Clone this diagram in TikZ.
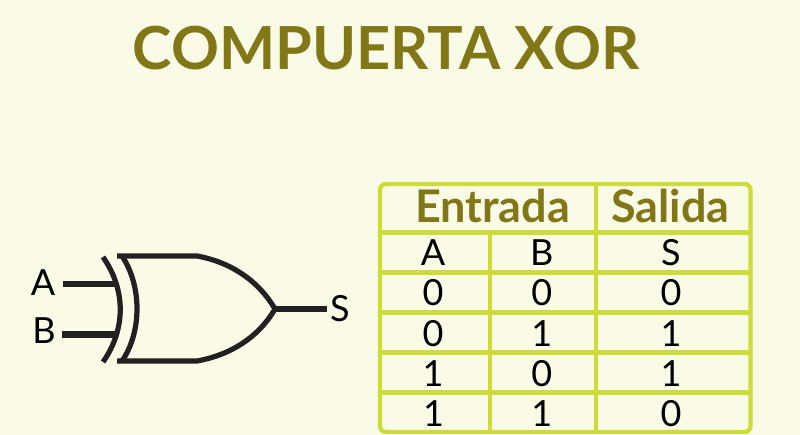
\documentclass[tikz,border=0pt]{standalone}
\usepackage{fontspec}
\setmainfont{Lato}
\definecolor{bgc}{HTML}{F9FBE7}
\definecolor{titlec}{HTML}{827717}
\definecolor{gridc}{HTML}{CDDC39}
\definecolor{inkc}{HTML}{212121}
\tikzset{
  titletext/.style={anchor=base,inner sep=0pt,text=titlec,font=\fontsize{59.4}{60}\selectfont\bfseries},
  headtext/.style={anchor=base,inner sep=0pt,text=titlec,font=\fontsize{45}{45}\selectfont\bfseries},
  celltext/.style={anchor=base,inner sep=0pt,text=black,font=\fontsize{36}{36}\selectfont},
  pintext/.style={anchor=base,inner sep=0pt,text=black,font=\fontsize{36}{36}\selectfont},
  gridline/.style={draw=gridc,line width=4.4pt},
  gateline/.style={draw=inkc,line width=5.2pt},
  wireline/.style={draw=inkc,line width=6.2pt}
}
\begin{document}
\begin{tikzpicture}[x=1pt,y=-1pt]
\useasboundingbox (0,0) rectangle (800,435);
\fill[bgc] (0,0) rectangle (800,435);
\node[titletext] (title) at (386,69.3) {COMPUERTA XOR};
% table
\draw[gridline,rounded corners=6pt] (380,184) rectangle (750.5,432);
\foreach \yy in {232.5,272.5,312.5,352.5,392.5}
  \draw[gridline] (380,\yy) -- (750,\yy);
\draw[gridline] (490,232.5) -- (490,432);
\draw[gridline] (595.7,184) -- (595.7,432);
\node[headtext] (entrada) at (492.5,222.5) {Entrada};
\node[headtext] (salida) at (670.5,222.5) {Salida};
\node[celltext] (ca) at (433,265.3) {A};
\node[celltext] (cb) at (541.7,265.3) {B};
\node[celltext] (cs) at (671,265.3) {S};
\node[celltext] (r1a) at (433,306) {0};
\node[celltext] (r1b) at (541.7,306) {0};
\node[celltext] (r1s) at (671,306) {0};
\node[celltext] (r2a) at (433,346.5) {0};
\node[celltext] (r2b) at (541.7,346.5) {1};
\node[celltext] (r2s) at (671,346.5) {1};
\node[celltext] (r3a) at (433,386.5) {1};
\node[celltext] (r3b) at (541.7,386.5) {0};
\node[celltext] (r3s) at (671,386.5) {1};
\node[celltext] (r4a) at (433.5,426.5) {1};
\node[celltext] (r4b) at (541.7,426.5) {1};
\node[celltext] (r4s) at (671,426.5) {0};
% gate
\draw[gateline,line join=miter] (117,256) -- (197,256)
  .. controls (230,262) and (258,280) .. (275,309)
  .. controls (258,338) and (230,355) .. (197,361) -- (117,361);
\draw[gateline] (122,256) .. controls (142,286) and (142,332) .. (122,361);
\draw[gateline] (103,257) .. controls (126,290) and (126,329) .. (103,362);
\coordinate (ain) at (63,284);
\coordinate (bin) at (62,334.5);
\coordinate (aend) at (116,284);
\coordinate (bend) at (116,334.5);
\coordinate (sout) at (327,309);
\coordinate (gout) at (275,309);
\draw[wireline] (ain) -- (aend);
\draw[wireline] (bin) -- (bend);
\draw[wireline] (gout) -- (sout);
\node[pintext] (la) at (43,295.5) {A};
\node[pintext] (lb) at (44,344) {B};
\node[pintext] (ls) at (340,322) {S};
\end{tikzpicture}
\end{document}
